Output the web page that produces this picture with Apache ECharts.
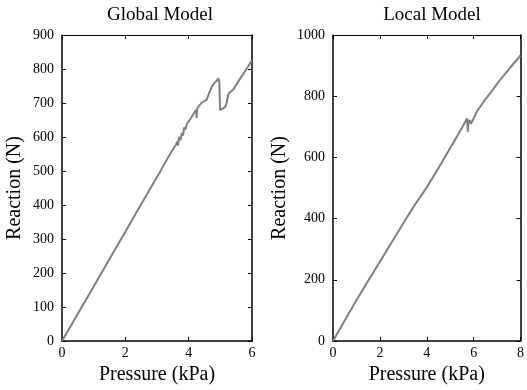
<!DOCTYPE html>
<html>
<head>
<meta charset="utf-8">
<script src="https://cdn.jsdelivr.net/npm/echarts@6/dist/echarts.min.js"></script>
<style>
html,body{margin:0;padding:0;background:#fff;}
#chart{width:527px;height:390px;}
</style>
</head>
<body>
<div id="chart"></div>
<script>
// Global Model: pressure (kPa) and reaction (N)
const globalPressure = [0,0.5,1,1.5,2,2.5,3,3.4,3.6,3.64,3.66,3.7,3.74,3.78,3.82,3.86,3.9,3.95,4.05,4.15,4.24,4.25,4.27,4.4,4.46,4.57,4.65,4.73,4.8,4.87,4.94,4.97,4.99,5.08,5.15,5.2,5.22,5.26,5.41,5.6,5.8,6.0];
const globalReaction = [0,80,160,241,321,402,482,548,578,586,575,600,590,612,604,628,622,640,652,668,680,656,684,700,704,710,730,748,758,764,773,760,679,684,688,700,712,728,740,768,796,826];
// Local Model
const localPressure = [0,0.5,1,1.5,2,2.5,3,3.5,4,4.5,4.92,5.3,5.6,5.72,5.75,5.78,5.83,5.88,5.94,6.14,6.5,6.76,7.06,7.5,8.0];
const localReaction = [0,67,133,197,259,322,385,446,502,565,620,670,710,727,684,715,722,710,718,750,790,815,847,888,933];

const titles = ['Global Model','Local Model'];
const xName = 'Pressure (kPa)';
const yName = 'Reaction (N)';

function pairs(xs, ys){ return xs.map((x,i)=>[x, ys[i]]); }

const FONT = 'Liberation Serif, Times New Roman, serif';
const lineStyle = {color:'#000', width:1.5};

function mainX(grid, max){
  return {gridIndex:grid, type:'value', min:0, max:max, interval:2, position:'bottom',
    name:xName, nameLocation:'middle', nameGap:24,
    nameTextStyle:{fontFamily:FONT, fontSize:20, color:'#000'},
    axisLine:{show:true, onZero:false, lineStyle:lineStyle},
    axisTick:{show:true, inside:true, length:4, lineStyle:{color:'#000'}},
    axisLabel:{fontFamily:FONT, fontSize:14, color:'#000', margin:5},
    splitLine:{show:false}};
}
function topX(grid, max){
  return {gridIndex:grid, type:'value', min:0, max:max, interval:2, position:'top',
    axisLine:{show:true, onZero:false, lineStyle:{color:'#000', width:1}},
    axisTick:{show:true, inside:true, length:4, lineStyle:{color:'#000'}},
    axisLabel:{show:false}, splitLine:{show:false}};
}
function mainY(grid, max, interval, gap){
  return {gridIndex:grid, type:'value', min:0, max:max, interval:interval, position:'left',
    name:yName, nameLocation:'middle', nameGap:gap,
    nameTextStyle:{fontFamily:FONT, fontSize:20, color:'#000'},
    axisLine:{show:true, onZero:false, lineStyle:lineStyle},
    axisTick:{show:true, inside:true, length:4, lineStyle:{color:'#000'}},
    axisLabel:{fontFamily:FONT, fontSize:14, color:'#000', margin:8, formatter:(v)=>String(v)},
    splitLine:{show:false}};
}
function rightY(grid, max, interval){
  return {gridIndex:grid, type:'value', min:0, max:max, interval:interval, position:'right',
    axisLine:{show:true, onZero:false, lineStyle:lineStyle},
    axisTick:{show:true, inside:true, length:4, lineStyle:{color:'#000'}},
    axisLabel:{show:false}, splitLine:{show:false}};
}

const chart = echarts.init(document.getElementById('chart'), null, {renderer:'canvas'});
chart.setOption({
  animation:false,
  backgroundColor:'#fff',
  title:[
    {text:titles[0], left:155, top:1, textAlign:'center', textStyle:{fontFamily:FONT, fontSize:19, fontWeight:'normal', color:'#000'}},
    {text:titles[1], left:427, top:1, textAlign:'center', textStyle:{fontFamily:FONT, fontSize:19, fontWeight:'normal', color:'#000'}}
  ],
  grid:[
    {left:62, right:275, top:35, bottom:49},
    {left:333, right:5, top:35, bottom:49}
  ],
  xAxis:[mainX(0,6), topX(0,6), mainX(1,8), topX(1,8)],
  yAxis:[mainY(0,900,100,37), rightY(0,900,100), mainY(1,1000,200,43), rightY(1,1000,200)],
  series:[
    {type:'line', xAxisIndex:0, yAxisIndex:0, data:pairs(globalPressure, globalReaction), showSymbol:false, lineStyle:{color:'#808080', width:2}},
    {type:'line', xAxisIndex:2, yAxisIndex:2, data:pairs(localPressure, localReaction), showSymbol:false, lineStyle:{color:'#808080', width:2}}
  ]
});
</script>
</body>
</html>
